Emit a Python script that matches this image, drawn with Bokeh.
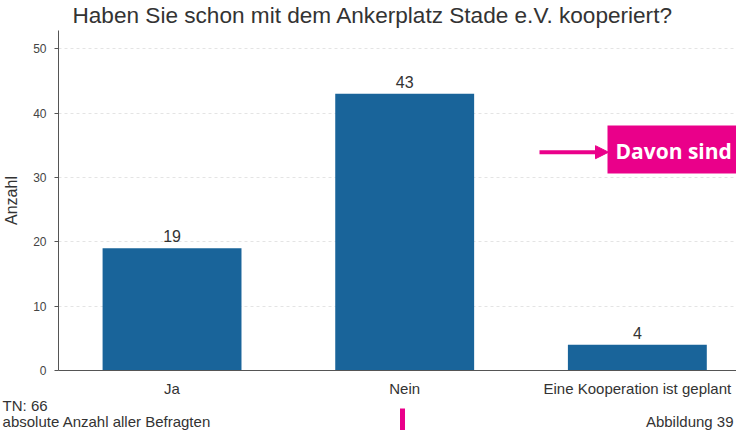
from bokeh.plotting import figure
from bokeh.models import (Range1d, FixedTicker, Label, BoxAnnotation, Arrow, NormalHead,
                          ColumnDataSource)
from bokeh.core.properties import value
from bokeh.embed import file_html
from bokeh.resources import INLINE
import numpy as np

# ---- data ----
categories = ["Ja", "Nein", "Eine Kooperation ist geplant"]
counts = [19, 43, 4]
y_ticks = [0, 10, 20, 30, 40, 50]
title_text = "Haben Sie schon mit dem Ankerplatz Stade e.V. kooperiert?"
y_label = "Anzahl"
note_n = "TN: 66"
note_desc = "absolute Anzahl aller Befragten"
figure_no = "Abbildung 39"
callout = "Davon sind"

BAR = "#19649a"
PINK = "#ea008a"
FONT = "Liberation Sans"
TXT = "#333333"

# ---- layout (pixels on the canvas) ----
W, H = 736, 430
FL, FT, FB = 57, 30, 370          # frame left / top / bottom
X0, PPX = 0.012, 233.0            # x start, pixels per category
Y1 = (FB - FT) / 6.434            # y end so that 10 units = 64.3 px

def xd(px):
    return X0 + (px - FL) / PPX
def yd(py):
    return (FB - py) / 6.434
def sx(px):
    return px - FL
def sy(py):
    return FB - py

xpos = np.arange(len(categories)) + 0.5
src = ColumnDataSource(dict(x=xpos, top=counts, lab=[str(c) for c in counts]))

p = figure(width=W, height=H, output_backend="svg", toolbar_location=None,
           x_range=Range1d(X0, xd(W)), y_range=Range1d(0, Y1),
           min_border_left=FL, min_border_right=0, min_border_top=FT, min_border_bottom=H - FB)
p.outline_line_color = None
p.background_fill_color = "white"
p.border_fill_color = "white"

p.vbar(x="x", top="top", width=0.597, bottom=0, source=src, fill_color=BAR, line_color=None)
p.text(x="x", y="top", text="lab", source=src, text_align="center", text_baseline="bottom",
       y_offset=-6, text_font=value(FONT), text_font_size="16px", text_color=TXT)

# x axis
p.xaxis.ticker = FixedTicker(ticks=list(xpos))
p.xaxis.major_label_overrides = {float(x): c for x, c in zip(xpos, categories)}
p.xaxis.major_tick_out = 0
p.xaxis.major_tick_in = 0
p.xaxis.minor_tick_out = 0
p.xaxis.minor_tick_in = 0
p.xaxis.major_label_standoff = 9
p.xaxis.major_label_text_font = FONT
p.xaxis.major_label_text_font_size = "15px"
p.xaxis.major_label_text_color = TXT
p.xaxis.axis_line_color = "#555555"

# y axis
p.yaxis.ticker = FixedTicker(ticks=y_ticks)
p.yaxis.major_tick_out = 4
p.yaxis.major_tick_in = 0
p.yaxis.minor_tick_out = 0
p.yaxis.minor_tick_in = 0
p.yaxis.major_label_standoff = 8
p.yaxis.major_label_orientation = "horizontal"
p.yaxis.major_label_text_font = FONT
p.yaxis.major_label_text_font_size = "12px"
p.yaxis.major_label_text_color = "#444444"
p.yaxis.axis_line_color = "#555555"
p.yaxis.major_tick_line_color = "#555555"
p.yaxis.axis_label = y_label
p.yaxis.axis_label_text_font = FONT
p.yaxis.axis_label_text_font_size = "16px"
p.yaxis.axis_label_text_font_style = "normal"
p.yaxis.axis_label_text_color = TXT
p.yaxis.axis_label_standoff = 10

p.xgrid.grid_line_color = None
p.ygrid.ticker = FixedTicker(ticks=y_ticks[1:])
p.ygrid.grid_line_color = "#e4e4e4"
p.ygrid.grid_line_dash = "3 3"
p.ygrid.grid_line_width = 1

# texts outside the frame (overlay level -> not clipped to the frame)
p.text(x=[xd(71)], y=[yd(14.8)], text=[title_text], level="overlay",
       text_font=value(FONT), text_font_size="22.6px", text_color=TXT,
       text_align="left", text_baseline="middle")
p.text(x=[xd(1), xd(1)], y=[yd(405), yd(421)], text=[note_n, note_desc], level="overlay",
       text_font=value(FONT), text_font_size="15px", text_color=TXT,
       text_align="left", text_baseline="middle")
p.text(x=[xd(733)], y=[yd(421)], text=[figure_no], level="overlay",
       text_font=value(FONT), text_font_size="15px", text_color=TXT,
       text_align="right", text_baseline="middle")
p.quad(left=[xd(399)], right=[xd(404)], top=[yd(408)], bottom=[yd(435)], level="overlay",
       fill_color=PINK, line_color=None)

# pink callout (inside the frame)
p.add_layout(BoxAnnotation(left=sx(606), right=sx(760), top=sy(125), bottom=sy(173),
                           left_units="screen", right_units="screen", top_units="screen",
                           bottom_units="screen", fill_color=PINK, fill_alpha=1,
                           line_color=None, level="overlay"))
p.add_layout(Label(x=sx(614), y=sy(150), x_units="screen", y_units="screen", text=callout,
                   text_font="Open Sans", text_font_size="21px", text_font_style="bold",
                   text_color="white", text_baseline="middle", text_align="left", level="overlay"))
p.add_layout(Arrow(x_start=sx(538), y_start=sy(151.7), x_end=sx(607), y_end=sy(151.7),
                   start_units="screen", end_units="screen", line_color=PINK, line_width=4,
                   end=NormalHead(size=13, fill_color=PINK, line_color=PINK, line_width=1)))

open("out.html", "w").write(file_html(p, INLINE))
